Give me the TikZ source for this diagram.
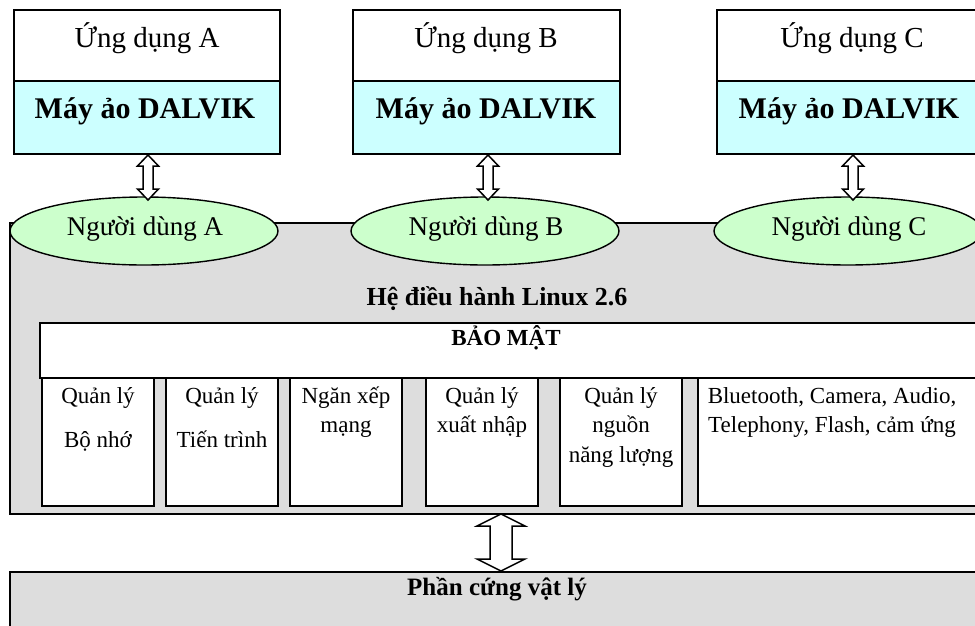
\documentclass[tikz,border=0pt]{standalone}
\usepackage{fontspec}
\setmainfont{Liberation Serif}
\usetikzlibrary{calc,shapes.geometric}
\definecolor{vmcyan}{HTML}{CCFFFF}
\definecolor{usergreen}{HTML}{CCFFCC}
\definecolor{osgray}{HTML}{DDDDDD}
\tikzset{
  frame/.style={draw=black, line width=1.6pt, rectangle, inner sep=0pt, outer sep=0pt, anchor=north west},
  userell/.style={draw=black, line width=1.4pt, ellipse, fill=usergreen, minimum width=268pt, minimum height=68pt, inner sep=0pt},
  txt/.style={anchor=base, inner sep=0pt},
  apptxt/.style={txt, font=\fontsize{29}{34}\selectfont},
  vmtxt/.style={txt, font=\fontsize{30}{35}\selectfont\bfseries},
  usertxt/.style={txt, font=\fontsize{27}{32}\selectfont},
  titletxt/.style={txt, font=\fontsize{26}{31}\selectfont\bfseries},
  hwtxt/.style={txt, font=\fontsize{25}{30}\selectfont\bfseries},
  sectxt/.style={txt, font=\fontsize{23}{28}\selectfont\bfseries},
  modtxt/.style={txt, font=\fontsize{23}{28}\selectfont},
  blockarr/.style={draw=black, line width=1.5pt, fill=white, line join=miter}
}
% rectangle node from (x1,y1) to (x2,y2) in pixel coordinates
\newcommand\rbox[6]{\node[frame,#6,minimum width={#4pt-#2pt},minimum height={#5pt-#3pt}] (#1) at (#2,#3) {};}
% block double arrow: top tip, bottom tip, shaft half width, head half width, head length
\newcommand\blockarrow[5]{%
  \draw[blockarr] let \p1=(#1), \p2=(#2) in
    (\x1,\y1) -- (\x1+#4pt,\y1-#5pt) -- (\x1+#3pt,\y1-#5pt) -- (\x1+#3pt,\y2+#5pt)
    -- (\x1+#4pt,\y2+#5pt) -- (\x1,\y2) -- (\x1-#4pt,\y2+#5pt) -- (\x1-#3pt,\y2+#5pt)
    -- (\x1-#3pt,\y1-#5pt) -- (\x1-#4pt,\y1-#5pt) -- cycle;}
\begin{document}
\begin{tikzpicture}[x=1pt,y=-1pt]
\useasboundingbox (0,0) rectangle (975,625);
\clip (0,0) rectangle (975,625);

% operating system layer
\rbox{os}{10}{223}{995}{514}{fill=osgray}
\rbox{hw}{10}{572}{995}{640}{fill=osgray}
\rbox{sec}{40}{323}{995}{378}{fill=white}
\rbox{m1}{42}{378}{154}{506}{fill=white}
\rbox{m2}{166}{378}{278}{506}{fill=white}
\rbox{m3}{290}{378}{402}{506}{fill=white}
\rbox{m4}{426}{378}{538}{506}{fill=white}
\rbox{m5}{560}{378}{682}{506}{fill=white}
\rbox{m6}{698}{378}{995}{506}{fill=white}

% applications
\rbox{appA}{14}{10}{280}{81}{fill=white}
\rbox{vmA}{14}{81}{280}{154}{fill=vmcyan}
\rbox{appB}{353}{10}{620}{81}{fill=white}
\rbox{vmB}{353}{81}{620}{154}{fill=vmcyan}
\rbox{appC}{717}{10}{985}{81}{fill=white}
\rbox{vmC}{717}{81}{985}{154}{fill=vmcyan}

% users
\node[userell] (uA) at (144,231) {};
\node[userell] (uB) at (485,231) {};
\node[userell] (uC) at (848,231) {};

% arrows
\coordinate (aAt) at (148,155); \coordinate (aAb) at (148,200);
\coordinate (aBt) at (488,155); \coordinate (aBb) at (488,200);
\coordinate (aCt) at (853,155); \coordinate (aCb) at (853,200);
\coordinate (aHt) at (501,514); \coordinate (aHb) at (501,571);
\blockarrow{aAt}{aAb}{5}{10.5}{11}
\blockarrow{aBt}{aBb}{5}{10.5}{11}
\blockarrow{aCt}{aCb}{5}{10.5}{11}
\blockarrow{aHt}{aHb}{11}{24}{12}

% texts
\node[apptxt] (tAppA) at (147,47) {Ứng dụng A};
\node[apptxt] (tAppB) at (486,47) {Ứng dụng B};
\node[apptxt] (tAppC) at (852,47) {Ứng dụng C};
\node[vmtxt] (tVmA) at (145,118) {Máy ảo DALVIK};
\node[vmtxt] (tVmB) at (486,118) {Máy ảo DALVIK};
\node[vmtxt] (tVmC) at (849,118) {Máy ảo DALVIK};
\node[usertxt] (tUA) at (145,235) {Người dùng A};
\node[usertxt] (tUB) at (486,235) {Người dùng B};
\node[usertxt] (tUC) at (849,235) {Người dùng C};

\node[titletxt] (tOS) at (497,305) {Hệ điều hành Linux 2.6};
\node[sectxt] (tSec) at (506,345) {BẢO MẬT};
\node[hwtxt] (tHW) at (497,595) {Phần cứng vật lý};

\node[modtxt] (t1a) at (98,403) {Quản lý};
\node[modtxt] (t1b) at (98,447) {Bộ nhớ};
\node[modtxt] (t2a) at (222,403) {Quản lý};
\node[modtxt] (t2b) at (222,447) {Tiến trình};
\node[modtxt] (t3a) at (346,403) {Ngăn xếp};
\node[modtxt] (t3b) at (346,432) {mạng};
\node[modtxt] (t4a) at (482,403) {Quản lý};
\node[modtxt] (t4b) at (482,432) {xuất nhập};
\node[modtxt] (t5a) at (621,403) {Quản lý};
\node[modtxt] (t5b) at (621,432) {nguồn};
\node[modtxt] (t5c) at (621,462) {năng lượng};
\node[modtxt] (t6a) at (832,403) {Bluetooth, Camera, Audio,};
\node[modtxt] (t6b) at (832,432) {Telephony, Flash, cảm ứng};
\end{tikzpicture}
\end{document}
